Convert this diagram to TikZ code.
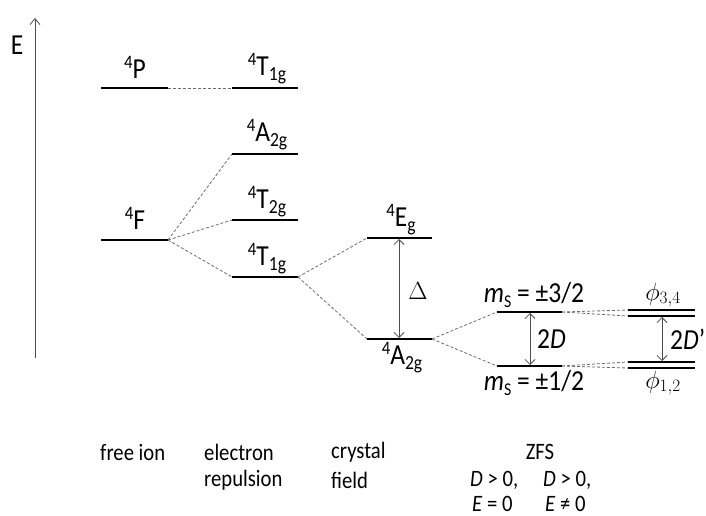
\documentclass[tikz,border=0pt]{standalone}
\usepackage{fontspec}
\setmainfont{Carlito}[FakeStretch=0.88]
\usetikzlibrary{arrows.meta}
\newcommand{\tlab}[3]{{\fontsize{19}{19}\selectfont\raisebox{9.5pt}{#1}}#2{\fontsize{20}{20}\selectfont\raisebox{-5.5pt}{#3}}}
\newcommand{\msval}[1]{\textit{m}{\fontsize{18}{18}\selectfont\raisebox{-4.5pt}{S}} = ±#1}
\begin{document}
\begin{tikzpicture}[x=1pt,y=-1pt,
  level/.style={line width=1.8pt,black},
  conn/.style={gray!85!black,line width=0.8pt,dash pattern=on 3pt off 2pt},
  gap/.style={gray!60!black,line width=0.8pt,{Straight Barb[length=5pt,width=10pt]}-{Straight Barb[length=5pt,width=10pt]}},
  lab/.style={font=\fontsize{29}{29}\selectfont,inner sep=0pt},
  captext/.style={font=\fontsize{23.5}{26}\selectfont,inner sep=0pt,anchor=west}]
\useasboundingbox (0,0) rectangle (706,516);
% axis
\coordinate (axb) at (35,358);
\coordinate (axt) at (35,18);
\draw[gray!60!black,line width=0.8pt,-{Straight Barb[length=6pt,width=10pt]}] (axb) -- (axt);
\node[lab] (E) at (17,45) {E};
% free ion
\coordinate (Pl) at (101,88); \coordinate (Pr) at (168,88);
\coordinate (Fl) at (101,240); \coordinate (Fr) at (168,240);
% electron repulsion
\coordinate (T1ul) at (232,88); \coordinate (T1ur) at (298,88);
\coordinate (A2l) at (232,154); \coordinate (A2r) at (298,154);
\coordinate (T2l) at (232,220); \coordinate (T2r) at (298,220);
\coordinate (T1l) at (232,277); \coordinate (T1r) at (298,277);
% crystal field
\coordinate (Egl) at (367,238); \coordinate (Egr) at (432,238);
\coordinate (Acl) at (367,339); \coordinate (Acr) at (432,339);
% ZFS
\coordinate (m3l) at (497,312); \coordinate (m3r) at (562,312);
\coordinate (m1l) at (497,366); \coordinate (m1r) at (562,366);
% E != 0
\coordinate (pAl) at (628,310); \coordinate (pAr) at (695,310);
\coordinate (pBl) at (628,316); \coordinate (pBr) at (695,316);
\coordinate (pCl) at (628,362); \coordinate (pCr) at (695,362);
\coordinate (pDl) at (628,368); \coordinate (pDr) at (695,368);
% levels
\foreach \a/\b in {Pl/Pr,Fl/Fr,T1ul/T1ur,A2l/A2r,T2l/T2r,T1l/T1r,Egl/Egr,Acl/Acr,m3l/m3r,m1l/m1r,pAl/pAr,pBl/pBr,pCl/pCr,pDl/pDr}
  \draw[level] (\a) -- (\b);
% connectors
\draw[conn] (Pr) -- (T1ul);
\draw[conn] (Fr) -- (A2l);
\draw[conn] (Fr) -- (T2l);
\draw[conn] (Fr) -- (T1l);
\draw[conn] (T1r) -- (Egl);
\draw[conn] (T1r) -- (Acl);
\draw[conn] (Acr) -- (m3l);
\draw[conn] (Acr) -- (m1l);
\draw[conn] (m3r) -- (pAl);
\draw[conn] (m3r) -- (pBl);
\draw[conn] (m1r) -- (pCl);
\draw[conn] (m1r) -- (pDl);
% gap arrows
\coordinate (dt) at (399,239); \coordinate (db) at (399,338);
\draw[gap] (dt) -- (db);
\coordinate (zt) at (530,313); \coordinate (zb) at (530,365);
\draw[gap] (zt) -- (zb);
\coordinate (et) at (662,317); \coordinate (eb) at (662,361);
\draw[gap] (et) -- (eb);
% level labels
\node[lab] (lP) at (135,70) {\tlab{4}{P}{}};
\node[lab] (lT1u) at (267,69) {\tlab{4}{T}{1g}};
\node[lab] (lA2) at (267,135) {\tlab{4}{A}{2g}};
\node[lab] (lT2) at (267,202) {\tlab{4}{T}{2g}};
\node[lab] (lF) at (135,221) {\tlab{4}{F}{}};
\node[lab] (lT1) at (267,259) {\tlab{4}{T}{1g}};
\node[lab] (lEg) at (401,220) {\tlab{4}{E}{g}};
\node[lab] (lAc) at (402,358) {\tlab{4}{A}{2g}};
\node[lab,font=\fontsize{30}{30}\selectfont] (lD) at (418,291) {$\Delta$};
\node[lab] (lm3) at (534,295) {\msval{3/2}};
\node[lab] (lm1) at (534,383) {\msval{1/2}};
\node[lab,anchor=west] (l2D) at (537,339) {2\textit{D}};
\node[lab,anchor=west] (l2Dp) at (670,339) {2\textit{D}'};
\node[lab,font=\fontsize{25}{25}\selectfont] (lphi34) at (663,295) {$\phi_{3,4}$};
\node[lab,font=\fontsize{25}{25}\selectfont] (lphi12) at (663,383) {$\phi_{1,2}$};
% captions
\node[captext] (c1) at (100,452) {free ion};
\node[captext] (c2) at (204,452) {electron};
\node[captext] (c3) at (204,480) {repulsion};
\node[captext] (c4) at (331,452) {crystal};
\node[captext] (c5) at (331,480) {field};
\node[captext,anchor=center] (c6) at (540,452) {ZFS};
\node[captext] (c7) at (470,480) {\textit{D} > 0,};
\node[captext] (c8) at (543,480) {\textit{D} > 0,};
\node[captext] (c9) at (472,504) {\textit{E} = 0};
\node[captext] (c10) at (545,504) {\textit{E} ≠ 0};
\end{tikzpicture}
\end{document}
